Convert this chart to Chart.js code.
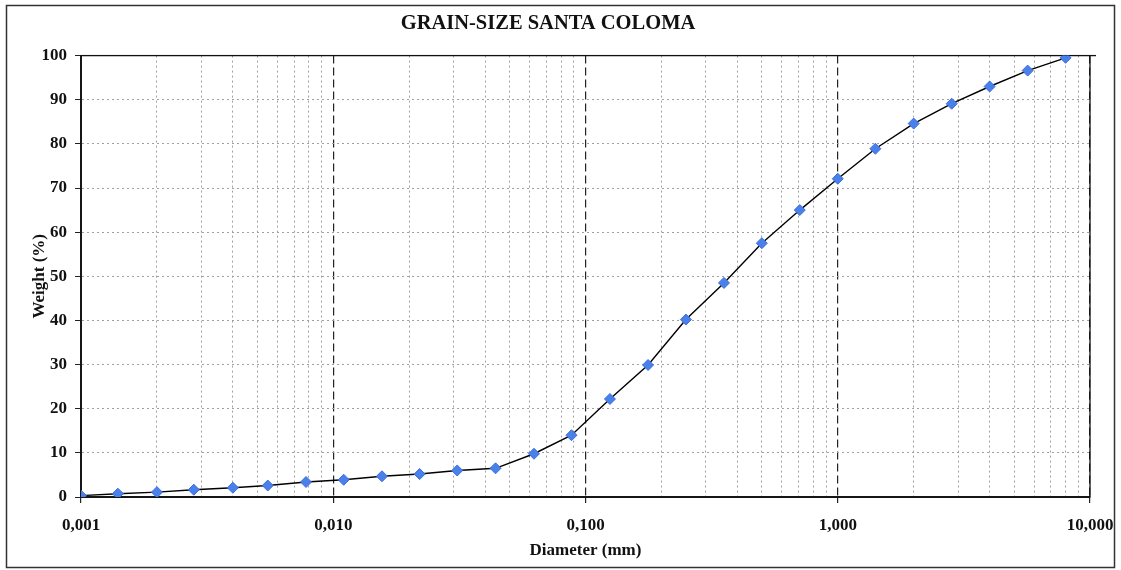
<!DOCTYPE html>
<html>
<head>
<meta charset="utf-8">
<script src="https://cdn.jsdelivr.net/npm/chart.js@4"></script>
<style>
  body { margin: 0; background: #fff; }
  .chart-box { width: 1121px; height: 570px; }
</style>
</head>
<body>
<div class="chart-box"><canvas id="grain-chart"></canvas></div>
<script>
// grain size curve, diameter in mm vs cumulative weight %
const diameters = [
  0.001, 0.0014, 0.002, 0.0028, 0.004, 0.0055, 0.0078, 0.011, 0.0156,
  0.022, 0.031, 0.044, 0.0625, 0.088, 0.125, 0.177, 0.25, 0.354, 0.5,
  0.707, 1, 1.41, 2, 2.83, 4, 5.66, 8,
];
const weights = [
  0.3, 0.75, 1.1, 1.65, 2.1, 2.6, 3.4, 3.9, 4.7, 5.2, 6.0, 6.5, 9.8, 14.0,
  22.2, 29.9, 40.2, 48.5, 57.5, 65.0, 72.1, 78.9, 84.6, 89.1, 93.0, 96.6, 99.5,
];
const decades = [0.001, 0.01, 0.1, 1, 10];
const minorSteps = [2, 3, 4, 5, 6, 7, 8, 9];
const yTicks = [0, 10, 20, 30, 40, 50, 60, 70, 80, 90, 100];

const serif = "'Liberation Serif', 'DejaVu Serif', serif";

// every 1..9 x 10^n between the decades
function buildXTicks() {
  let ticks = [];
  decades.forEach((d, i) => {
    ticks.push(d);
    if (i < decades.length - 1) {
      minorSteps.forEach((m) => ticks.push(Number((m * d).toPrecision(3))));
    }
  });
  return ticks;
}

function isDecade(v) {
  const l = Math.log10(v);
  return Math.abs(l - Math.round(l)) < 1e-9;
}

// outer frame round the whole picture and box round the plot area
const framePlugin = {
  id: "frame",
  beforeDatasetsDraw(chart) {
    const { ctx, chartArea } = chart;
    ctx.save();
    ctx.strokeStyle = "#111";
    ctx.lineWidth = 1.3;
    ctx.strokeRect(chartArea.left, chartArea.top, chartArea.width, chartArea.height);
    // top line runs a little past the right edge, like the original
    ctx.beginPath();
    ctx.moveTo(chartArea.right, chartArea.top);
    ctx.lineTo(chartArea.right + 6, chartArea.top);
    ctx.stroke();
    ctx.restore();
  },
  afterDraw(chart) {
    const { ctx } = chart;
    ctx.save();
    ctx.strokeStyle = "#333";
    ctx.lineWidth = 1.5;
    ctx.strokeRect(6.5, 5.5, 1108, 562);
    ctx.restore();
  },
};

const ctx = document.getElementById("grain-chart");

new Chart(ctx, {
  type: "line",
  data: {
    datasets: [
      {
        label: "Santa Coloma",
        data: diameters.map((d, i) => ({ x: d, y: weights[i] })),
        borderColor: "#000",
        borderWidth: 1.4,
        pointStyle: "rectRot",
        pointRadius: 5.5,
        pointBackgroundColor: "#4a80ec",
        pointBorderColor: "#3b6fd6",
        pointBorderWidth: 1,
        tension: 0,
      },
    ],
  },
  options: {
    responsive: true,
    maintainAspectRatio: false,
    animation: false,
    layout: { padding: { left: 6, right: 31, top: 6, bottom: 5 } },
    plugins: {
      legend: { display: false },
      tooltip: { enabled: false },
      title: {
        display: true,
        text: "GRAIN-SIZE SANTA COLOMA",
        color: "#111",
        font: { family: serif, size: 20.5, weight: "bold" },
        padding: { top: 5, bottom: 20 },
      },
    },
    scales: {
      x: {
        type: "logarithmic",
        min: 0.001,
        max: 10,
        afterBuildTicks: (scale) => {
          scale.ticks = buildXTicks().map((v) => ({ value: v }));
        },
        afterFit: (scale) => {
          scale.height = 68;
          scale.paddingLeft = 0;
          scale.paddingRight = 0;
        },
        ticks: {
          autoSkip: false,
          maxRotation: 0,
          padding: 12,
          color: "#111",
          font: { family: serif, size: 17, weight: "bold" },
          callback: (value) => (isDecade(value) ? value.toFixed(3).replace(".", ",") : ""),
        },
        grid: {
          color: (c) => (c.tick && isDecade(c.tick.value) ? "#222" : "#a0a0a0"),
          lineWidth: (c) => (c.tick && isDecade(c.tick.value) ? 1.2 : 1),
          tickColor: (c) => (c.tick && isDecade(c.tick.value) ? "#222" : "rgba(0,0,0,0)"),
          tickLength: 6,
        },
        border: {
          display: true,
          color: "#222",
          width: 2,
          dash: (c) => (c.tick && isDecade(c.tick.value) ? [8, 4] : [2, 3]),
        },
        title: {
          display: true,
          text: "Diameter (mm)",
          color: "#111",
          font: { family: serif, size: 17, weight: "bold" },
          padding: { top: 0, bottom: 4 },
        },
      },
      y: {
        min: 0,
        max: 100,
        afterBuildTicks: (scale) => {
          scale.ticks = yTicks.map((v) => ({ value: v }));
        },
        afterFit: (scale) => {
          scale.width = 75;
        },
        ticks: {
          padding: 8,
          color: "#111",
          font: { family: serif, size: 17, weight: "bold" },
        },
        grid: {
          color: "#a0a0a0",
          tickColor: "#222",
          tickLength: 6,
        },
        border: {
          display: true,
          color: "#222",
          width: 2,
          dash: [2, 3],
        },
        title: {
          display: true,
          text: "Weight (%)",
          color: "#111",
          font: { family: serif, size: 17, weight: "bold" },
          padding: { top: 23, bottom: 0 },
        },
      },
    },
  },
  plugins: [framePlugin],
});
</script>
</body>
</html>
